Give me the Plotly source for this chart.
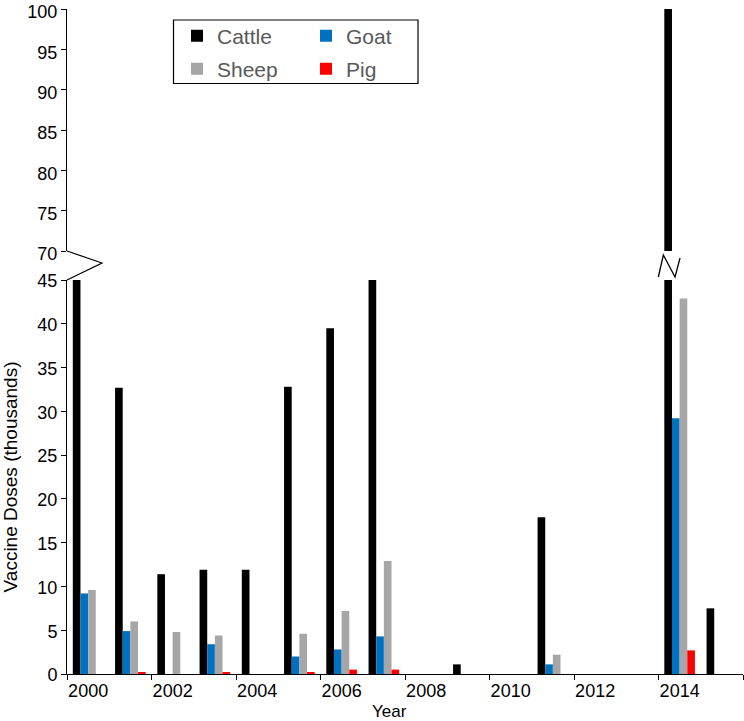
import plotly.graph_objects as go

# ---- data (thousands of doses) ----
years = list(range(2000, 2016))
cattle = [45, 32.7, 11.4, 11.9, 11.9, 32.8, 39.5, 45, 0, 1.1, 0, 17.9, 0, 0, 100, 7.5]
goat = [9.2, 4.9, 0, 3.4, 0, 2.0, 2.8, 4.3, 0, 0, 0, 1.1, 0, 0, 29.2, 0]
sheep = [9.6, 6.0, 4.8, 4.4, 0, 4.6, 7.2, 12.9, 0, 0, 0, 2.2, 0, 0, 42.9, 0]
pig = [0, 0.15, 0, 0.15, 0, 0.15, 0.5, 0.5, 0, 0, 0, 0, 0, 0, 2.7, 0]

series_names = ["Cattle", "Goat", "Sheep", "Pig"]
series_values = [cattle, goat, sheep, pig]
series_colors = ["#000000", "#0070C0", "#A6A6A6", "#FF0000"]
legend_ids = ["legend", "legend2", "legend3", "legend4"]

label_years = years[0:15:2]
boundary_ticks = [y - 0.5 for y in years[::2]] + [years[-1] + 0.5]

lower_ticks = list(range(0, 50, 5))
upper_ticks = list(range(70, 105, 5))

FONT = "Arial, Liberation Sans, sans-serif"
BARGAP = 0.275

W, H = 744, 721
ML, MR, MT, MB = 67, 1, 9, 47
PW, PH = W - ML - MR, H - MT - MB


def py(pix):  # pixel row -> paper y
    return (H - MB - pix) / PH


def px(pix):  # pixel column -> paper x
    return (pix - ML) / PW


lower_dom = [0, py(280)]
upper_dom = [py(251), 1]

fig = go.Figure()
for name, vals, col, lg in zip(series_names, series_values, series_colors, legend_ids):
    fig.add_trace(go.Bar(x=years, y=vals, name=name, marker_color=col,
                         marker_line_width=0, xaxis="x", yaxis="y",
                         legend=lg, offsetgroup=name))
for name, vals, col in zip(series_names, series_values, series_colors):
    fig.add_trace(go.Bar(x=years, y=vals, name=name, marker_color=col,
                         marker_line_width=0, xaxis="x2", yaxis="y2",
                         showlegend=False, offsetgroup=name))

shapes = []
# y-axis break zigzag ">"
shapes.append(dict(type="path", xref="paper", yref="paper",
                   path=f"M0,{py(251)} L{px(102)},{py(263)} L0,{py(280)}",
                   line=dict(color="black", width=1.2)))
# bar break mark on the tallest cattle bar (2014)
i14 = years.index(2014)
xc = years[i14] - 3 * (1 - BARGAP) / 8
u = 1 / 42.25
shapes.append(dict(type="path", xref="x", yref="paper",
                   path=(f"M{xc - 9.8*u},{py(277)} L{xc - 4.8*u},{py(255)} "
                         f"L{xc + 6.9*u},{py(277)} L{xc + 11.9*u},{py(258)}"),
                   line=dict(color="black", width=1.3)))
# legend frame
shapes.append(dict(type="rect", xref="paper", yref="paper",
                   x0=px(173.5), x1=px(418), y0=py(83.5), y1=py(20),
                   line=dict(color="black", width=1.2), fillcolor="rgba(0,0,0,0)"))

leg_font = dict(family=FONT, size=21, color="#595959")
leg_pos = {"legend": (177, 36), "legend2": (306, 36),
           "legend3": (177, 69), "legend4": (306, 69)}
layout_legends = {}
for lg, (lx, ly) in leg_pos.items():
    layout_legends[lg] = dict(x=px(lx), y=py(ly), xanchor="left", yanchor="middle",
                              orientation="h", font=leg_font, bgcolor="rgba(0,0,0,0)",
                              borderwidth=0, itemwidth=30, tracegroupgap=0)

axis_font = dict(family=FONT, size=18, color="black")

fig.update_layout(
    width=W, height=H,
    margin=dict(l=ML, r=MR, t=MT, b=MB, autoexpand=False),
    paper_bgcolor="white", plot_bgcolor="white",
    barmode="group", bargap=BARGAP, bargroupgap=0,
    font=dict(family=FONT, color="black"),
    xaxis=dict(range=[1999.5, 2015.5], domain=[0, 1], anchor="y", automargin=False,
               tickmode="array", tickvals=label_years,
               ticktext=[str(y) for y in label_years],
               ticks="", showline=True, linecolor="black", linewidth=1,
               showgrid=False, zeroline=False, tickfont=axis_font,
               minor=dict(tickmode="array", tickvals=boundary_ticks, ticks="outside",
                          ticklen=5, tickwidth=1, tickcolor="black", showgrid=False)),
    xaxis2=dict(range=[1999.5, 2015.5], domain=[0, 1], anchor="y2", matches="x",
                visible=False),
    yaxis=dict(domain=lower_dom, range=[0, 45], anchor="x", automargin=False,
               tickmode="array", tickvals=lower_ticks, ticklabelshift=1,
               ticks="outside", ticklen=5, tickcolor="black",
               showline=True, linecolor="black", linewidth=1,
               showgrid=False, zeroline=False, tickfont=axis_font,
               title=dict(text="Vaccine Doses (thousands)",
                          font=dict(family=FONT, size=19, color="black"), standoff=17)),
    yaxis2=dict(domain=upper_dom, range=[70, 100], anchor="x2", automargin=False,
                tickmode="array", tickvals=upper_ticks, ticklabeloverflow="allow",
                ticklabelshift=3,
                ticks="outside", ticklen=5, tickcolor="black",
                showline=True, linecolor="black", linewidth=1,
                showgrid=False, zeroline=False, tickfont=axis_font),
    shapes=shapes,
    annotations=[dict(text="Year", xref="paper", yref="paper", x=px(389), y=py(711),
                      xanchor="center", yanchor="middle", showarrow=False,
                      font=dict(family=FONT, size=17, color="black"))],
    **layout_legends,
)

fig.write_html("out.html", config={"displayModeBar": False},
               post_script="document.body.style.margin='0';document.body.style.padding='0';")
